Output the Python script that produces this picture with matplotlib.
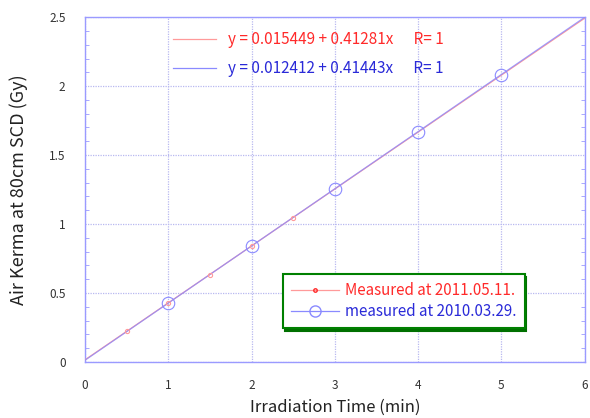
import matplotlib
matplotlib.use("Agg")
import matplotlib.pyplot as plt
import numpy as np
from matplotlib.lines import Line2D

plt.rcParams['font.family'] = ['Noto Sans CJK JP', 'DejaVu Sans']

# Data
x_2011 = [0.5, 1.0, 1.5, 2.0, 2.5]
y_2011 = [0.222, 0.428, 0.634, 0.841, 1.047]
x_2010 = [1, 2, 3, 4, 5]
y_2010 = [0.427, 0.841, 1.256, 1.670, 2.084]
fit_2011 = (0.015449, 0.41281)
fit_2010 = (0.012412, 0.41443)
fit_labels = ["y = 0.015449 + 0.41281x      R= 1", "y = 0.012412 + 0.41443x      R= 1"]
legend_labels = ["Measured at 2011.05.11.", "measured at 2010.03.29."]
xticks = [0, 1, 2, 3, 4, 5, 6]
yticks = [0, 0.5, 1, 1.5, 2, 2.5]
ytick_labels = ['0', '0.5', '1', '1.5', '2', '2.5']

red = '#ff2a2a'
blue = '#2a2ad8'
red_line = '#ff9a9a'
blue_line = '#8a8aff'
spine_c = '#9a9aff'
grid_c = '#b8b8f0'

fig = plt.figure(figsize=(5.9, 4.18), dpi=100)
ax = fig.add_axes([0.144, 0.134, 0.847, 0.825])

xf = np.array([0.0, 6.0])
ax.plot(xf, fit_2011[0] + fit_2011[1] * xf, color=red_line, lw=0.9, zorder=3)
ax.plot(xf, fit_2010[0] + fit_2010[1] * xf, color=blue_line, lw=0.9, zorder=3, alpha=0.8)
ax.plot(x_2011, y_2011, linestyle='none', marker='o', ms=3, mfc='none', mec=red_line, mew=0.8, zorder=4)
ax.plot(x_2010, y_2010, linestyle='none', marker='o', ms=9, mfc='none', mec=blue_line, mew=0.8, zorder=4)

ax.set_xlim(0, 6)
ax.set_ylim(0, 2.5)
ax.set_xticks(xticks)
ax.set_yticks(yticks)
ax.set_xticklabels([str(v) for v in xticks])
ax.set_yticklabels(ytick_labels)
ax.set_yticks(np.arange(0, 2.51, 0.1), minor=True)
ax.tick_params(axis='both', which='both', direction='in', colors=spine_c,
               labelcolor='#333333', labelsize=8.5, right=True, top=False)
ax.tick_params(axis='y', which='major', length=0, pad=14)
ax.tick_params(axis='y', which='minor', length=3)
ax.tick_params(axis='x', which='major', length=0, pad=12)
for s in ax.spines.values():
    s.set_color(spine_c)
    s.set_linewidth(1.0)
ax.grid(True, which='major', color=grid_c, linestyle=(0, (1, 1)), lw=0.9)

ax.set_xlabel("Irradiation Time (min)", fontsize=12, color='#222222', labelpad=5)
ax.set_ylabel("Air Kerma at 80cm SCD (Gy)", fontsize=13, color='#222222', labelpad=15)

fs_top = 11
h1 = Line2D([], [], color=red_line, lw=0.9)
h2 = Line2D([], [], color=blue_line, lw=0.9)
leg1 = ax.legend([h1, h2], fit_labels, loc='center left', bbox_to_anchor=(0.163, 0.893),
                 frameon=False, fontsize=fs_top, labelcolor=[red, blue], handlelength=2.85,
                 labelspacing=0.78, handletextpad=0.75, borderaxespad=0)
ax.add_artist(leg1)

fs_bot = 10.9
m1 = Line2D([], [], color=red_line, lw=0.9, marker='o', ms=2.5, mfc='none', mec=red)
m2 = Line2D([], [], color=blue_line, lw=0.9, marker='o', ms=8, mfc='none', mec=blue_line)
leg2 = ax.legend([m1, m2], legend_labels, loc='lower left', bbox_to_anchor=(0.396, 0.0986),
                 frameon=True, fontsize=fs_bot, labelcolor=[red, blue], handlelength=3.2,
                 labelspacing=0.28, handletextpad=0.4, fancybox=False, borderpad=0.52,
                 borderaxespad=0,
                 shadow={'color': '#007000', 'alpha': 1.0, 'ox': 1.2, 'oy': -2.2})
leg2.get_frame().set_edgecolor('#008000')
leg2.get_frame().set_linewidth(1.5)

fig.savefig("out.png", dpi=100)
